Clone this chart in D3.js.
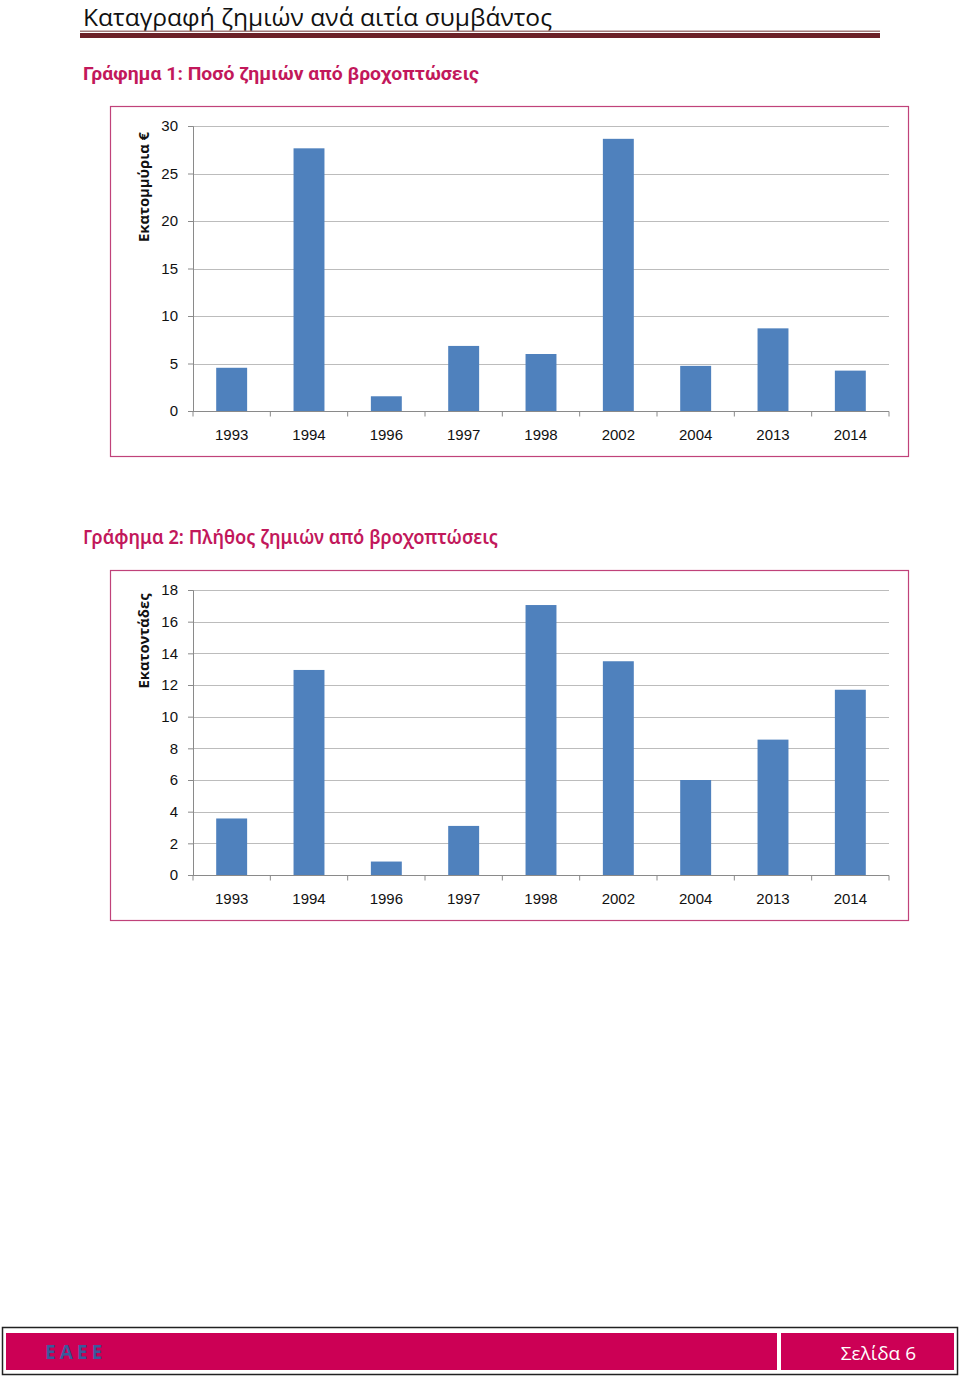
<!DOCTYPE html>
<html><head><meta charset="utf-8">
<script src="https://cdn.jsdelivr.net/npm/d3@7"></script>
<style>
html,body{margin:0;padding:0;background:#fff;}
svg{display:block;}
</style></head>
<body>
<script>
// ---- data ----
const years = ["1993","1994","1996","1997","1998","2002","2004","2013","2014"];
const lossAmount = [4.55, 27.65, 1.55, 6.85, 6.0, 28.65, 4.75, 8.7, 4.25];   // εκατομμύρια €
const lossCount  = [3.57, 12.95, 0.85, 3.1, 17.05, 13.5, 6.0, 8.55, 11.7];   // εκατοντάδες
const ticks1 = [0, 5, 10, 15, 20, 25, 30];
const ticks2 = [0, 2, 4, 6, 8, 10, 12, 14, 16, 18];

const W = 960, H = 1379;
const svg = d3.select("body").append("svg").attr("width", W).attr("height", H);

// page heading
svg.append("text").attr("x", 83).attr("y", 25.5)
  .attr("font-family", "Open Sans, Noto Sans, sans-serif").attr("font-size", 23)
  .attr("textLength", 469).attr("lengthAdjust", "spacingAndGlyphs")
  .attr("fill", "#111").text("Καταγραφή ζημιών ανά αιτία συμβάντος");
svg.append("rect").attr("x", 80).attr("y", 30.5).attr("width", 800).attr("height", 1.5).attr("fill", "#a07a7a");
svg.append("rect").attr("x", 80).attr("y", 33).attr("width", 800).attr("height", 5).attr("fill", "#6b2027");

const pink = "#c2185b";

function chart(opts) {
  const {boxY, title, titleY, titleW, titleWeight, titleFamily, values, ticks, yMax, yLabel, yLabelLen} = opts;
  svg.append("text").attr("x", 83).attr("y", titleY)
    .attr("font-family", titleFamily).attr("font-weight", titleWeight)
    .attr("font-size", 19).attr("fill", pink)
    .attr("textLength", titleW).attr("lengthAdjust", "spacingAndGlyphs")
    .text(title);

  svg.append("rect").attr("x", 110.5).attr("y", boxY + 0.5).attr("width", 798).attr("height", 350)
    .attr("fill", "#fff").attr("stroke", "#c0427a").attr("stroke-width", 1.2);

  const left = 193, right = 889;
  const top = boxY + 20, bottom = boxY + 305;
  const x = d3.scaleBand().domain(years).range([left, right]).paddingInner(0.6).paddingOuter(0.3);
  const y = d3.scaleLinear().domain([0, yMax]).range([bottom, top]);

  const g = svg.append("g");
  // gridlines
  g.append("g").selectAll("line").data(ticks.filter(t => t > 0)).join("line")
    .attr("x1", left).attr("x2", right)
    .attr("y1", d => Math.round(y(d)) + 0.5).attr("y2", d => Math.round(y(d)) + 0.5)
    .attr("stroke", "#bcbcbc").attr("stroke-width", 1);

  // bars
  g.append("g").selectAll("rect").data(values).join("rect")
    .attr("x", (d, i) => x(years[i])).attr("width", x.bandwidth())
    .attr("y", d => y(d)).attr("height", d => y(0) - y(d))
    .attr("fill", "#4f81bd");

  // y axis
  const yAxis = g.append("g").attr("transform", `translate(${left},0)`)
    .call(d3.axisLeft(y).tickValues(ticks).tickSize(5).tickPadding(10).tickFormat(d3.format("d")));
  yAxis.select(".domain").attr("stroke", "#8a8a8a");
  yAxis.selectAll(".tick line").attr("stroke", "#8a8a8a");
  yAxis.selectAll("text").attr("font-family", "Liberation Sans, Arial, sans-serif").attr("font-size", 15).attr("fill", "#111");

  // x axis with ticks at band boundaries
  const xg = g.append("g").attr("transform", `translate(0,${Math.round(y(0)) + 0.5})`);
  xg.append("line").attr("x1", left).attr("x2", right).attr("stroke", "#8a8a8a");
  const bounds = d3.range(years.length + 1).map(i => left + i * (right - left) / years.length);
  xg.selectAll("line.tk").data(bounds).join("line").attr("class", "tk")
    .attr("x1", d => d).attr("x2", d => d).attr("y1", 0).attr("y2", 5).attr("stroke", "#8a8a8a");
  xg.selectAll("text").data(years).join("text")
    .attr("x", d => x(d) + x.bandwidth() / 2).attr("y", 28)
    .attr("text-anchor", "middle")
    .attr("font-family", "Liberation Sans, Arial, sans-serif").attr("font-size", 15).attr("fill", "#111")
    .text(d => d);

  // y label
  const cy = opts.yLabelCenter;
  svg.append("text").attr("transform", `translate(149,${cy}) rotate(-90)`)
    .attr("text-anchor", "middle")
    .attr("font-family", "Open Sans, Noto Sans, sans-serif").attr("font-weight", "bold").attr("font-size", 15)
    .attr("textLength", yLabelLen).attr("lengthAdjust", "spacingAndGlyphs")
    .attr("fill", "#111").text(yLabel);
}

chart({boxY: 106, title: "Γράφημα 1: Ποσό ζημιών από βροχοπτώσεις", titleY: 80, titleW: 396,
  titleWeight: "bold", titleFamily: "Liberation Sans Narrow, Roboto, Arial Narrow, sans-serif",
  values: lossAmount, ticks: ticks1, yMax: 30, yLabel: "Εκατομμύρια €", yLabelLen: 110, yLabelCenter: 187});

chart({boxY: 570, title: "Γράφημα 2: Πλήθος ζημιών από βροχοπτώσεις", titleY: 544, titleW: 415,
  titleWeight: 600, titleFamily: "Noto Sans, Open Sans, sans-serif",
  values: lossCount, ticks: ticks2, yMax: 18, yLabel: "Εκατοντάδες", yLabelLen: 95, yLabelCenter: 641});

// footer
svg.append("rect").attr("x", 2.5).attr("y", 1327.5).attr("width", 955).attr("height", 47)
  .attr("fill", "#fff").attr("stroke", "#222").attr("stroke-width", 1.5);
svg.append("rect").attr("x", 6).attr("y", 1333).attr("width", 771).attr("height", 37).attr("fill", "#cc0055");
svg.append("rect").attr("x", 781).attr("y", 1333).attr("width", 173).attr("height", 37).attr("fill", "#cc0055");
svg.append("text").attr("x", 45).attr("y", 1359)
  .attr("font-family", "Open Sans, Noto Sans, sans-serif").attr("font-weight", "bold").attr("font-size", 19)
  .attr("letter-spacing", 4).attr("fill", "#3a5a9c").text("ΕΑΕΕ");
svg.append("text").attr("x", 916).attr("y", 1360).attr("text-anchor", "end")
  .attr("font-family", "Open Sans, Noto Sans, sans-serif").attr("font-size", 19)
  .attr("fill", "#fff").text("Σελίδα 6");
</script>
</body></html>
